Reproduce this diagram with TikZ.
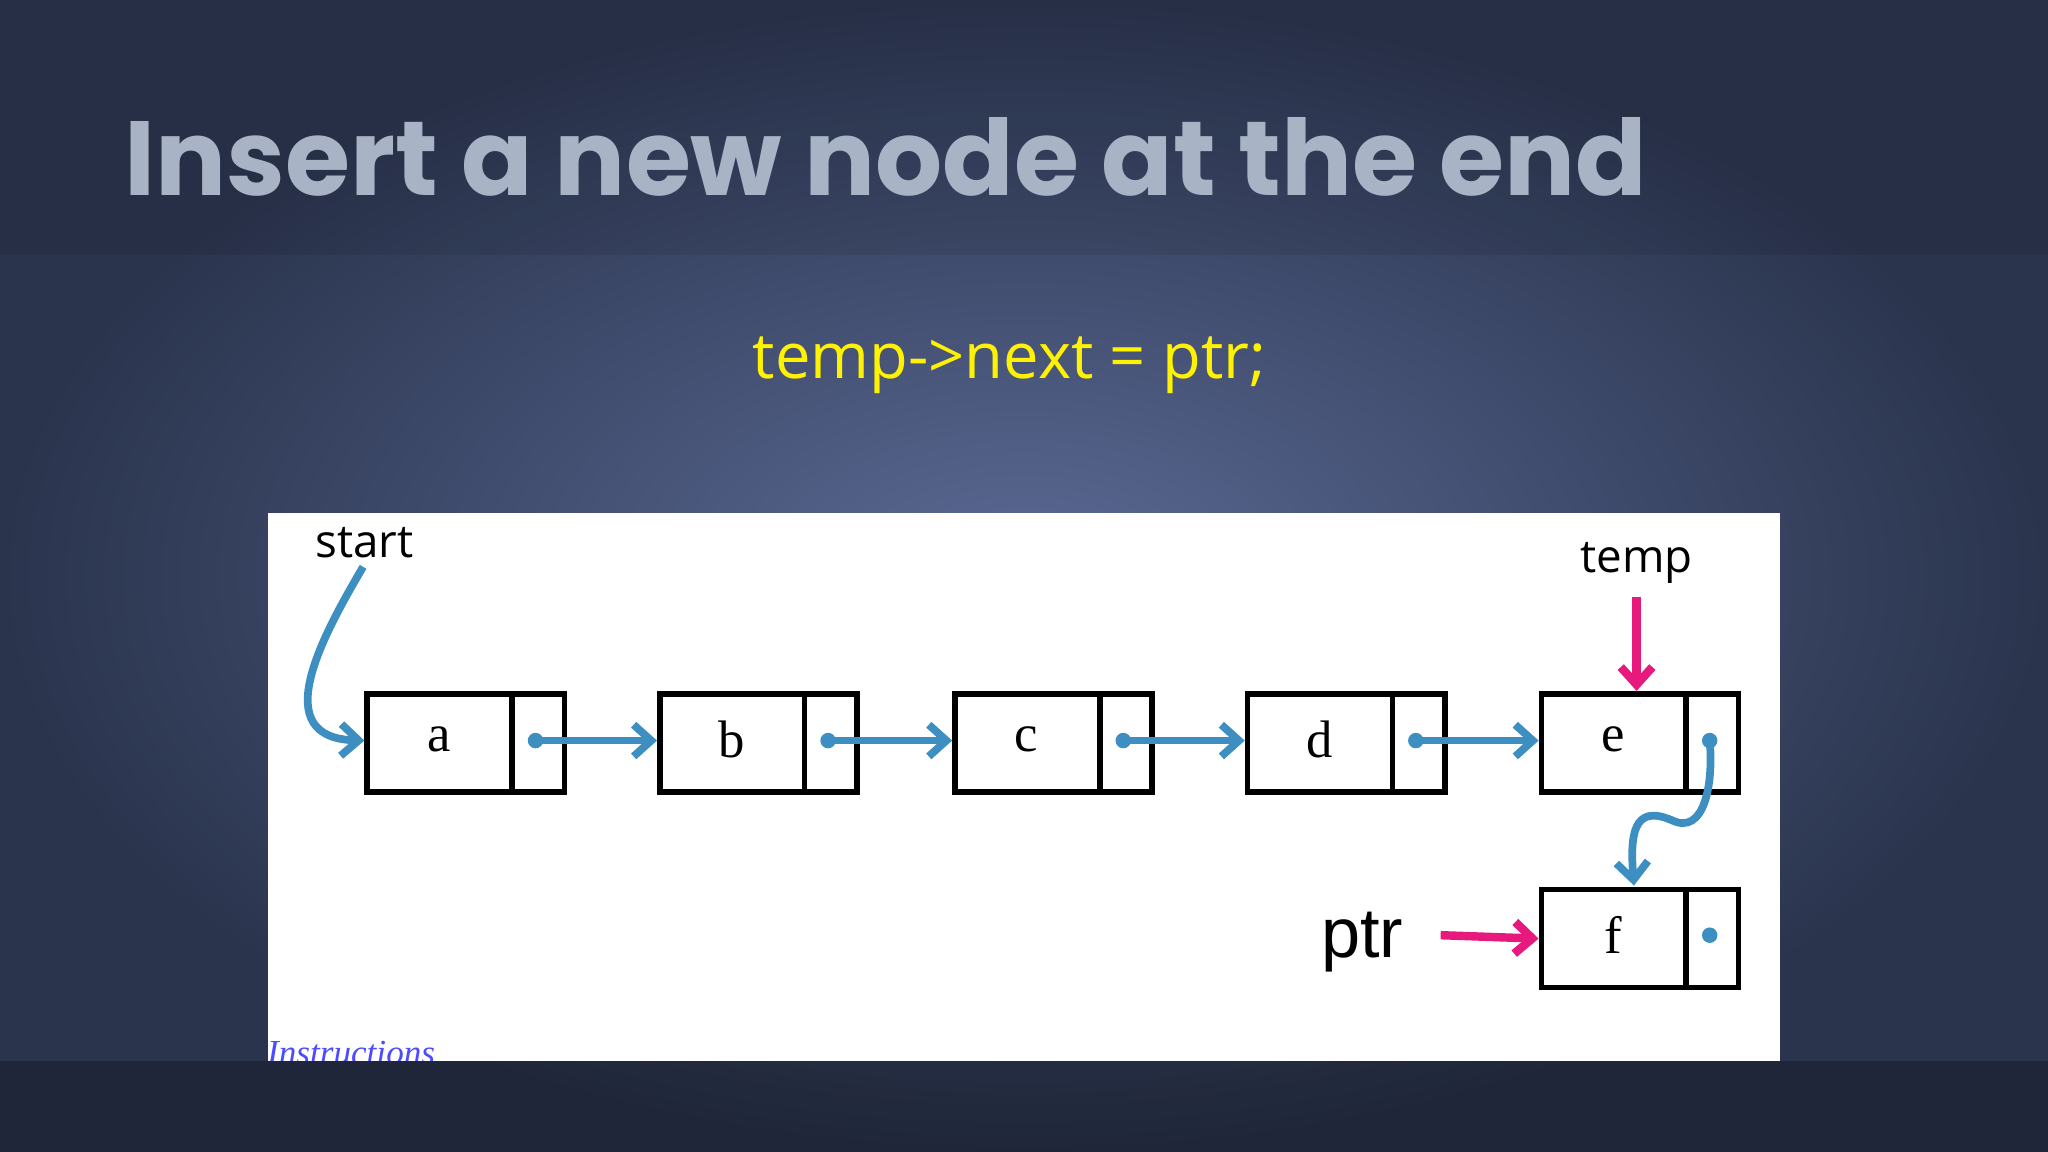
\documentclass[tikz,border=0pt]{standalone}
\usepackage{fontspec}
\setmainfont{Liberation Sans}
\newfontfamily\titlefont{Poppins}
\newfontfamily\codefont{Open Sans}
\newfontfamily\lblfont{Open Sans}
\newfontfamily\seriffont{Liberation Serif}
\usetikzlibrary{arrows.meta}
\definecolor{bgmid}{HTML}{5B6A95}
\definecolor{bgedge}{HTML}{2A344D}
\definecolor{titlec}{HTML}{A9B3C6}
\definecolor{arrblue}{HTML}{3C8FC0}
\definecolor{pinkc}{HTML}{E8197D}
\tikzset{
  box/.style={draw=black,line width=1.6pt,minimum width=151\pxu,minimum height=75\pxu,inner sep=0pt},
  barr/.style={arrblue,line width=2.2pt,-{Straight Barb[length=5pt,width=9pt]}},
  parr/.style={pinkc,line width=2.4pt,-{Straight Barb[length=5pt,width=9pt]}},
  letter/.style={font=\seriffont\fontsize{15}{15}\selectfont},
}
\newlength{\pxu}\setlength{\pxu}{0.3716pt}
\begin{document}
\begin{tikzpicture}[x=0.013061cm,y=-0.013061cm]
\useasboundingbox (0,0) rectangle (1568,882);
\shade[inner color=bgmid,outer color=bgedge] (0,0) rectangle (1568,882);
\fill[black,opacity=0.08] (0,0) rectangle (1568,195);
\fill[black,opacity=0.25] (0,812) rectangle (1568,882);
\node[anchor=base west,text=titlec,font=\titlefont\bfseries\fontsize{30}{30}\selectfont,inner sep=0] (title) at (95,150) {Insert a new node at the end};
\node[anchor=base,text=yellow,font=\codefont\fontsize{18}{18}\selectfont,inner sep=0] (code) at (773,290) {temp->next = ptr;};
\fill[white] (205,393) rectangle (1363,812);
\foreach \n/\x/\l in {a/279/a,b/503/b,c/729/c,d/953/d,e/1178/e}{
  \node[box,anchor=north west] (\n) at (\x,529) {};
  \draw[line width=1.6pt] (\x+113,529) -- (\x+113,604);
  \node[letter] (\n l) at (\x+57,566) {\l};
  \coordinate (\n p) at (\x+131,567);
}
\node[box,anchor=north west] (f) at (1178,679) {};
\draw[line width=1.6pt] (1291,679) -- (1291,754);
\node[letter] (fl) at (1235,716) {f};
\fill[arrblue] (1309,716) circle (2.2pt);
\foreach \s/\t in {a/b,b/c,c/d,d/e}{
  \fill[arrblue] (\s p) circle (2.2pt);
  \draw[barr] (\s p) -- (\t.west|-\s p);
}
\fill[arrblue] (ep) circle (2.2pt);
\draw[barr] (ep) .. controls (1312,600) and (1305,640) .. (1280,628) .. controls (1250,615) and (1248,640) .. (1251,678);
\node[font=\lblfont\fontsize{13}{13}\selectfont,anchor=base] (start) at (279,427) {start};
\coordinate (s0) at (278,434);
\draw[barr] (s0) .. controls (245,490) and (205,565) .. (a.west|-ap);
\node[font=\lblfont\fontsize{13}{13}\selectfont,anchor=base] (temp) at (1253,438) {temp};
\coordinate (t0) at (1253,457);
\draw[parr] (t0) -- (e.north-|t0);
\node[font=\fontsize{20}{20}\selectfont,anchor=base] (ptr) at (1043,733) {ptr};
\coordinate (p0) at (1103,716);
\draw[parr] (p0) -- (f.west);
\begin{scope}
\clip (200,780) rectangle (400,812);
\node[anchor=base west,text=blue!70!white,font=\seriffont\itshape\fontsize{10}{10}\selectfont,inner sep=0] (instr) at (204,815) {Instructions};
\end{scope}
\end{tikzpicture}
\end{document}
